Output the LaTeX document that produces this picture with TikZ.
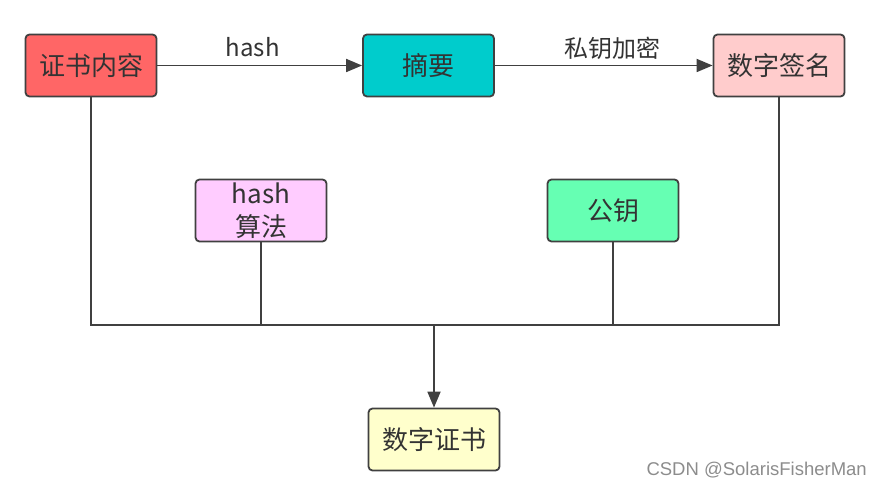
\documentclass[tikz,border=0pt]{standalone}
\usepackage{fontspec}
\setmainfont{Noto Sans CJK SC}
\newfontfamily\wmfont{Liberation Sans}
\usetikzlibrary{arrows.meta}
\definecolor{linec}{HTML}{404040}
\definecolor{cred}{HTML}{FF6666}
\definecolor{cteal}{HTML}{00CCCC}
\definecolor{cpink}{HTML}{FFCCCC}
\definecolor{cviolet}{HTML}{FFCCFF}
\definecolor{cgreen}{HTML}{66FFB3}
\definecolor{cyellow}{HTML}{FFFFCC}
\begin{document}
\begin{tikzpicture}[x=1pt,y=-1pt,
  box/.style={draw=linec,line width=1.8pt,rounded corners=4pt,minimum width=131pt,minimum height=62pt,inner sep=0pt,text=black!80,font=\fontsize{26}{30}\selectfont,align=center},
  conn/.style={draw=linec,line width=1.8pt},
  arr/.style={conn,-{Triangle[length=16pt,width=13pt]}},
  lbl/.style={text=black!80,font=\fontsize{24}{28}\selectfont,inner sep=0pt}]
\useasboundingbox (0,0) rectangle (881,489);
\node[box,fill=cred] (zs) at (91,65.5) {证书内容};
\node[box,fill=cteal] (zy) at (428.5,65.5) {摘要};
\node[box,fill=cpink] (qm) at (779,65.5) {数字签名};
\node[box,fill=cviolet,font=\fontsize{26}{33}\selectfont] (hs) at (261,210.5) {hash\\[0pt]算法};
\node[box,fill=cgreen] (gy) at (613,210.5) {公钥};
\node[box,fill=cyellow] (zsz) at (434,439.5) {数字证书};
\coordinate (bl) at (91,325);
\coordinate (br) at (779,325);
\coordinate (bm) at (434,325);
\draw[arr] (zs) -- node[lbl,yshift=18pt,xshift=-7pt] {hash} (zy);
\draw[arr] (zy) -- node[lbl,yshift=17pt,xshift=9pt] {私钥加密} (qm);
\draw[conn] (zs.south) -- (bl) -- (br) -- (qm.south);
\draw[conn] (hs.south) -- (hs.south |- bl);
\draw[conn] (gy.south) -- (gy.south |- bl);
\draw[arr] (bm) -- (zsz.north);
\node[text=black!45,font=\wmfont\fontsize{18.5}{21}\selectfont,anchor=east,inner sep=0pt] (wm) at (867,470) {CSDN @SolarisFisherMan};
\end{tikzpicture}
\end{document}
